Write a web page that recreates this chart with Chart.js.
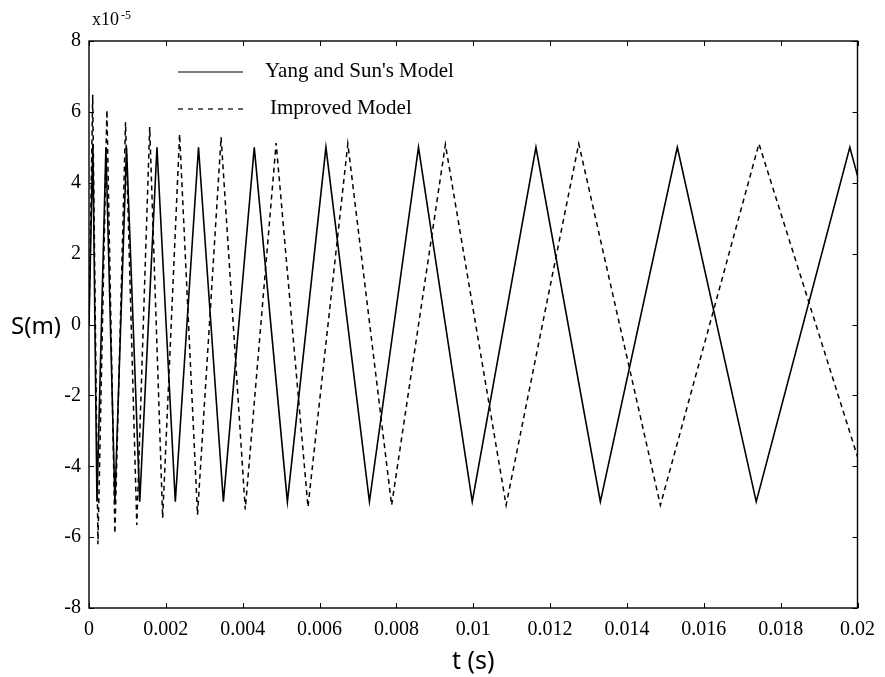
<!DOCTYPE html>
<html lang="en">
<head>
<meta charset="UTF-8">
<title>S(m) vs t(s)</title>
<script src="https://cdn.jsdelivr.net/npm/chart.js"></script>
<style>
  body { margin: 0; background: #fff; }
</style>
</head>
<body>
<canvas id="myChart" width="885" height="677"></canvas>
<script>
// Yang and Sun's Model (solid), time in s, S in units of 1e-5 m
const solidT = [0, 0.0001, 0.000207, 0.00044, 0.000674, 0.000977, 0.001321, 0.001769, 0.002246,
  0.00285, 0.003497, 0.004301, 0.005163, 0.006166, 0.007298, 0.008575, 0.009974,
  0.011632, 0.013308, 0.015311, 0.017365, 0.0198, 0.02];
const solidS = [0, 5.1, -5, 5, -5, 5, -5, 5, -5,
  5, -5, 5, -5, 5, -5, 5, -5,
  5, -5, 5, -5, 5, 4.2];

// Improved Model (dashed)
const dashT = [0, 0.000096, 0.000233, 0.000466, 0.000674, 0.000951, 0.001244, 0.00158, 0.001917,
  0.002358, 0.002824, 0.003438, 0.004067, 0.00487, 0.005699, 0.006736, 0.007876,
  0.009275, 0.010855, 0.012746, 0.01487, 0.017435, 0.02];
const dashS = [0, 6.48, -6.2, 6.05, -5.9, 5.71, -5.66, 5.57, -5.46,
  5.37, -5.37, 5.28, -5.22, 5.12, -5.15, 5.1, -5.1,
  5.08, -5.1, 5.1, -5.1, 5.1, -3.73];

const seriesNames = ["Yang and Sun's Model", "Improved Model"];
const xTicks = { min: 0, max: 0.02, step: 0.002 };
const yTicks = { min: -8, max: 8, step: 2 };

const serif = '"Liberation Serif", "Times New Roman", serif';
const sans = '"Noto Sans", "Liberation Sans", sans-serif';

function toPoints(ts, vs) {
  return ts.map((t, i) => ({ x: t, y: vs[i] }));
}

// frame, inward ticks, legend and titles
const decorations = {
  id: 'decorations',
  afterDraw(chart) {
    const { ctx, chartArea: a, scales: { x, y } } = chart;
    ctx.save();
    ctx.strokeStyle = '#000';
    ctx.lineWidth = 1.4;
    ctx.strokeRect(a.left, a.top, a.right - a.left, a.bottom - a.top);

    ctx.lineWidth = 1;
    ctx.beginPath();
    x.ticks.forEach(t => {
      const px = Math.round(x.getPixelForValue(t.value)) + 0.5;
      ctx.moveTo(px, a.bottom); ctx.lineTo(px, a.bottom - 5);
      ctx.moveTo(px, a.top); ctx.lineTo(px, a.top + 5);
    });
    y.ticks.forEach(t => {
      const py = Math.round(y.getPixelForValue(t.value)) + 0.5;
      ctx.moveTo(a.left, py); ctx.lineTo(a.left + 5, py);
      ctx.moveTo(a.right, py); ctx.lineTo(a.right - 5, py);
    });
    ctx.stroke();

    // legend
    ctx.fillStyle = '#000';
    ctx.textBaseline = 'middle';
    ctx.textAlign = 'left';
    ctx.font = '21px ' + serif;
    ctx.lineWidth = 1.2;
    ctx.beginPath();
    ctx.setLineDash([]);
    ctx.moveTo(178, 72); ctx.lineTo(243, 72);
    ctx.stroke();
    ctx.fillText(seriesNames[0], 265, 71);
    ctx.beginPath();
    ctx.setLineDash([5, 5]);
    ctx.moveTo(178, 109); ctx.lineTo(243, 109);
    ctx.stroke();
    ctx.setLineDash([]);
    ctx.fillText(seriesNames[1], 270, 108);

    // exponent
    ctx.font = '18px ' + serif;
    ctx.textBaseline = 'alphabetic';
    ctx.fillText('x10', 92, 25);
    const w = ctx.measureText('x10').width;
    ctx.font = '12px ' + serif;
    ctx.fillText('-5', 92 + w + 2, 19);

    // axis titles
    ctx.font = '24px ' + sans;
    ctx.textBaseline = 'middle';
    ctx.textAlign = 'left';
    ctx.fillText('S(m)', 11, 327);
    ctx.font = '25px ' + sans;
    ctx.textAlign = 'center';
    ctx.fillText('t (s)', (a.left + a.right) / 2, 662);
    ctx.restore();
  }
};

const myChart = new Chart(document.querySelector('#myChart'), {
  type: 'line',
  data: {
    datasets: [
      {
        label: seriesNames[0],
        data: toPoints(solidT, solidS),
        borderColor: '#000',
        borderWidth: 1.6,
        pointRadius: 0,
        tension: 0
      },
      {
        label: seriesNames[1],
        data: toPoints(dashT, dashS),
        borderColor: '#000',
        borderWidth: 1.5,
        borderDash: [5, 4],
        pointRadius: 0,
        tension: 0
      }
    ]
  },
  options: {
    responsive: false,
    animation: false,
    layout: { padding: { left: 0, right: 24, top: 41, bottom: 0 } },
    plugins: {
      legend: { display: false },
      tooltip: { enabled: false }
    },
    scales: {
      x: {
        type: 'linear',
        min: xTicks.min,
        max: xTicks.max,
        afterFit: s => { s.height = 69; },
        grid: { display: false, drawTicks: false },
        border: { display: false },
        ticks: {
          stepSize: xTicks.step,
          padding: 10,
          color: '#000',
          font: { family: serif, size: 20 },
          maxRotation: 0,
          callback: v => String(Number(v.toFixed(3)))
        }
      },
      y: {
        min: yTicks.min,
        max: yTicks.max,
        afterFit: s => { s.width = 89; },
        grid: { display: false, drawTicks: false },
        border: { display: false },
        ticks: {
          stepSize: yTicks.step,
          padding: 8,
          color: '#000',
          font: { family: serif, size: 20 },
          callback: v => String(v)
        }
      }
    }
  },
  plugins: [decorations]
});
</script>
</body>
</html>
